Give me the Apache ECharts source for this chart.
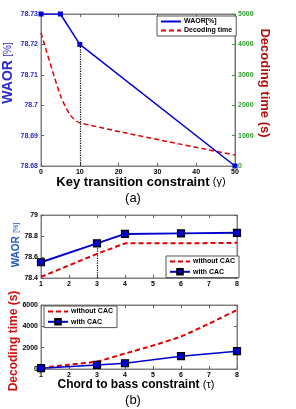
<!DOCTYPE html>
<html><head><meta charset="utf-8">
<script src="https://cdn.jsdelivr.net/npm/echarts@6/dist/echarts.min.js"></script>
<style>html,body{margin:0;padding:0;background:#fff}#c{width:296px;height:409px}</style>
</head><body><div id="c"></div>
<script>
// ---- (a) Key transition constraint ----
const keyX = [0, 5, 10, 50];
const waorA = [78.73, 78.73, 78.72, 78.68];
const decX = [0, 5, 7.5, 10, 50];
const decA = [4380, 2320, 1680, 1420, 360];
const keyTicks = [0, 10, 20, 30, 40, 50];
const waorTicksA = [78.68, 78.69, 78.70, 78.71, 78.72, 78.73];
const decTicksA = [0, 1000, 2000, 3000, 4000, 5000];
const markA = 2; // index of the highlighted point (gamma = 10)

// ---- (b) Chord to bass constraint ----
const tauX = [1, 3, 4, 6, 8];
const waorWithout = [78.41, 78.63, 78.73, 78.73, 78.735];
const waorWith = [78.55, 78.73, 78.82, 78.825, 78.83];
const timeX = [1, 2, 3, 4, 5, 6, 7, 8];
const timeWithout = [100, 400, 700, 1450, 2200, 3050, 4250, 5530];
const timeWith = [80, 380, 540, 1200, 1670];
const tauTicks = [1, 2, 3, 4, 5, 6, 7, 8];
const waorTicksB = [78.4, 78.6, 78.8, 79];
const timeTicksB = [0, 2000, 4000, 6000];
const markB = 1; // index of highlighted point (tau = 3)

const FF = 'Liberation Sans';
const zip = (xs, ys) => xs.map((x, i) => [x, ys[i]]);
const rng = t => ({min: t[0], max: t[t.length - 1], interval: +(t[1] - t[0]).toFixed(6)});
const intFmt = v => Math.round(v).toString();

function xAx(grid, ticks, pos, labels) {
  return Object.assign({
    type: 'value', gridIndex: grid, position: pos,
    axisLine: {show: true, onZero: false, lineStyle: {color: '#808080', width: 1}},
    axisTick: {show: true, inside: true, length: 3, lineStyle: {color: '#606060'}},
    axisLabel: {show: labels, color: '#000', fontSize: 7, fontWeight: 'bold', fontFamily: FF, margin: 3, formatter: intFmt},
    splitLine: {show: false}
  }, rng(ticks));
}
function yAx(grid, ticks, pos, labels, labelColor, lineColor, fmt) {
  const lab = {show: labels, color: labelColor || '#000', fontSize: 7, fontWeight: 'bold', fontFamily: FF, margin: 3};
  if (fmt) lab.formatter = fmt;
  return Object.assign({
    type: 'value', gridIndex: grid, position: pos,
    axisLine: {show: true, onZero: false, lineStyle: {color: lineColor || '#808080', width: 1}},
    axisTick: {show: true, inside: true, length: 3, lineStyle: {color: lineColor || '#606060'}},
    axisLabel: lab,
    splitLine: {show: false}
  }, rng(ticks));
}
function vline(x, y, y0) {
  return {
    silent: true, symbol: 'none', animation: false,
    label: {show: false},
    lineStyle: {type: 'dotted', color: '#000', width: 1.2},
    data: [[{coord: [x, y]}, {coord: [x, y0]}]]
  };
}
const legBase = {orient: 'vertical', itemWidth: 20, itemGap: 3, padding: [2, 4, 2, 3],
  borderColor: '#555', borderWidth: 1, backgroundColor: '#fff', borderRadius: 0,
  textStyle: {fontSize: 7, fontWeight: 'bold', fontFamily: FF, color: '#000', padding: [0, 0, 0, -2]}};
const noMark = name => ({name: name, itemStyle: {opacity: 0}});

const chart = echarts.init(document.getElementById('c'));
chart.setOption({
  animation: false,
  backgroundColor: '#fff',
  grid: [
    {left: 41, top: 14, width: 194, height: 152, show: true, borderColor: '#808080', borderWidth: 1},
    {left: 41, top: 215, width: 196, height: 63, show: true, borderColor: '#808080', borderWidth: 1},
    {left: 41, top: 305, width: 196, height: 64, show: true, borderColor: '#808080', borderWidth: 1}
  ],
  xAxis: [
    xAx(0, keyTicks, 'bottom', true),
    xAx(0, keyTicks, 'top', false),
    xAx(1, tauTicks, 'bottom', true),
    xAx(1, tauTicks, 'top', false),
    xAx(2, tauTicks, 'bottom', true),
    xAx(2, tauTicks, 'top', false)
  ],
  yAxis: [
    yAx(0, waorTicksA, 'left', true, '#2a2ad0'),
    yAx(0, decTicksA, 'right', true, '#2a9a2a', '#4a8a4a', intFmt),
    yAx(1, waorTicksB, 'left', true, '#000'),
    yAx(1, waorTicksB, 'right', false),
    yAx(2, timeTicksB, 'left', true, '#000', null, intFmt),
    yAx(2, timeTicksB, 'right', false)
  ],
  legend: [
    Object.assign({}, legBase, {data: [noMark('WAOR[%]'), noMark('Decoding time')], left: 157, top: 16, itemHeight: 6, itemGap: 2}),
    Object.assign({}, legBase, {data: [noMark('without CAC'), 'with CAC'], left: 166, top: 256, itemHeight: 7}),
    Object.assign({}, legBase, {data: [noMark('without CAC'), 'with CAC'], left: 44, top: 306, itemHeight: 7})
  ],
  series: [
    {name: 'WAOR[%]', type: 'line', xAxisIndex: 0, yAxisIndex: 0, data: zip(keyX, waorA),
     symbol: 'rect', symbolSize: 5, lineStyle: {color: '#0000dd', width: 1.5},
     itemStyle: {color: '#0000dd'}, z: 3,
     markLine: vline(keyX[markA], waorA[markA], waorTicksA[0])},
    {name: 'Decoding time', type: 'line', xAxisIndex: 0, yAxisIndex: 1, data: zip(decX, decA),
     symbol: 'none', smooth: 0.25, lineStyle: {color: '#e00000', width: 1.5, type: [5, 3]},
     itemStyle: {color: '#e00000'}, z: 2},
    {name: 'without CAC', type: 'line', xAxisIndex: 2, yAxisIndex: 2, data: zip(tauX, waorWithout),
     symbol: 'none', lineStyle: {color: '#e00000', width: 2, type: [5, 3]}, itemStyle: {color: '#e00000'}, z: 2},
    {name: 'with CAC', type: 'line', xAxisIndex: 2, yAxisIndex: 2, data: zip(tauX, waorWith),
     symbol: 'rect', symbolSize: 7, lineStyle: {color: '#0000cc', width: 2},
     itemStyle: {color: '#0000cc', borderColor: '#000', borderWidth: 1.2}, z: 3,
     markLine: vline(tauX[markB], waorWith[markB], waorTicksB[0])},
    {name: 'without CAC', type: 'line', xAxisIndex: 4, yAxisIndex: 4, data: zip(timeX, timeWithout),
     symbol: 'none', smooth: 0.2, lineStyle: {color: '#e00000', width: 2, type: [5, 3]}, itemStyle: {color: '#e00000'}, z: 2},
    {name: 'with CAC', type: 'line', xAxisIndex: 4, yAxisIndex: 4, data: zip(tauX, timeWith),
     symbol: 'rect', symbolSize: 7, lineStyle: {color: '#0000cc', width: 1.5},
     itemStyle: {color: '#0000cc', borderColor: '#000', borderWidth: 1.2}, z: 3}
  ],
  graphic: [
    {type: 'text', x: 8, y: 73, rotation: Math.PI / 2,
     style: {text: '{a|WAOR} {b|[%]}', align: 'center', verticalAlign: 'middle',
       rich: {a: {fontSize: 14, fontWeight: 'bold', fontFamily: FF, fill: '#2a2ad0'},
              b: {fontSize: 10, fontFamily: FF, fill: '#2a2ad0'}}}},
    {type: 'text', x: 265, y: 83, rotation: -Math.PI / 2,
     style: {text: 'Decoding time (s)', align: 'center', verticalAlign: 'middle',
       font: 'bold 13px "Liberation Sans"', fill: '#b01010'}},
    {type: 'text', x: 141, y: 182,
     style: {text: '{a|Key transition constraint} {b|(γ)}', align: 'center', verticalAlign: 'middle',
       rich: {a: {fontSize: 13, fontWeight: 'bold', fontFamily: FF, fill: '#000'},
              b: {fontSize: 11, fontFamily: FF, fill: '#000'}}}},
    {type: 'text', x: 133, y: 198,
     style: {text: '(a)', align: 'center', verticalAlign: 'middle', font: '13px "Liberation Sans"', fill: '#000'}},
    {type: 'text', x: 16, y: 245, rotation: Math.PI / 2,
     style: {text: '{a|WAOR} {b|[%]}', align: 'center', verticalAlign: 'middle',
       rich: {a: {fontSize: 10, fontWeight: 'bold', fontFamily: FF, fill: '#2255cc'},
              b: {fontSize: 7, fontFamily: FF, fill: '#2255cc'}}}},
    {type: 'text', x: 14, y: 341, rotation: Math.PI / 2,
     style: {text: 'Decoding time (s)', align: 'center', verticalAlign: 'middle',
       font: 'bold 12px "Liberation Sans"', fill: '#cc1111'}},
    {type: 'text', x: 136, y: 385,
     style: {text: '{a|Chord to bass constraint} {b|(τ)}', align: 'center', verticalAlign: 'middle',
       rich: {a: {fontSize: 12, fontWeight: 'bold', fontFamily: FF, fill: '#000'},
              b: {fontSize: 11, fontFamily: FF, fill: '#000'}}}},
    {type: 'text', x: 133, y: 400,
     style: {text: '(b)', align: 'center', verticalAlign: 'middle', font: '13px "Liberation Sans"', fill: '#000'}}
  ]
});
</script></body></html>
